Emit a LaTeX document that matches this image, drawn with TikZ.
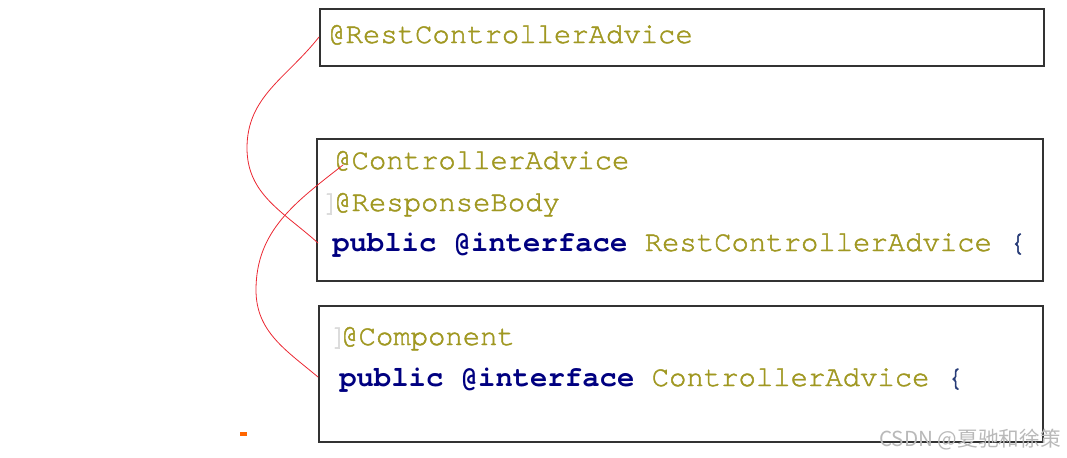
\documentclass[tikz,border=0pt]{standalone}
\usepackage{fontspec}
\newfontfamily\mono[Extension=.otf,UprightFont=texgyrecursor-regular,BoldFont=texgyrecursor-bold,UprightFeatures={FakeBold=1.6}]{texgyrecursor}
\newfontfamily\cjk{Noto Sans CJK SC}
\definecolor{anno}{RGB}{160,152,34}
\definecolor{kw}{RGB}{0,0,128}
\definecolor{brace}{RGB}{40,60,120}
\definecolor{faint}{RGB}{215,215,215}
\definecolor{boxline}{RGB}{50,50,50}
\definecolor{link}{RGB}{235,40,50}
\begin{document}
\begin{tikzpicture}[x=0.75pt,y=-0.75pt,
  codebox/.style={draw=boxline,line width=0.9pt},
  code/.style={anchor=base west,inner sep=0pt,font=\mono\fontsize{21.7}{26}\selectfont},
  redlink/.style={draw=link,line width=0.6pt}]
\useasboundingbox (0,0) rectangle (1067,457);
% boxes
\draw[codebox] (320,9) rectangle (1044,66);
\draw[codebox] (317,139) rectangle (1043,281);
\draw[codebox] (319,306) rectangle (1043,442);
% box 1
\node[code] (t1) at (328,43) {\color{anno}@RestControllerAdvice};
% box 2
\node[code] (t2) at (334,169) {\color{anno}@ControllerAdvice};
\node[code] (f2) at (322,211) {\color{faint}]};
\node[code] (t3) at (334,211) {\color{anno}@ResponseBody};
\node[code] (t4) at (332,251) {\color{kw}\bfseries public @interface \mdseries\color{anno}RestControllerAdvice \color{brace}\{};
% box 3
\node[code] (f3) at (330,345) {\color{faint}]};
\node[code] (t5) at (341,345) {\color{anno}@Component};
\node[code] (t6) at (339,386) {\color{kw}\bfseries public @interface \mdseries\color{anno}ControllerAdvice \color{brace}\{};
% red links
\coordinate (a1) at (319,37);
\coordinate (m1) at (247,148);
\coordinate (b1) at (318,243);
\coordinate (a2) at (343,165);
\coordinate (m2) at (256,290);
\coordinate (b2) at (318,377);
\draw[redlink] (a1) to[out=-128,in=90] (m1) to[out=-90,in=138] (b1);
\draw[redlink] (a2) to[out=-142,in=90] (m2) to[out=-90,in=140] (b2);
% small mark
\fill[orange!80!red] (240,432) rectangle (247,436);
% watermark
\node[anchor=base east,inner sep=0pt,text=gray!55,font=\cjk\fontsize{15.5}{18}\selectfont] (wm) at (1061,446) {CSDN @夏驰和徐策};
\end{tikzpicture}
\end{document}
